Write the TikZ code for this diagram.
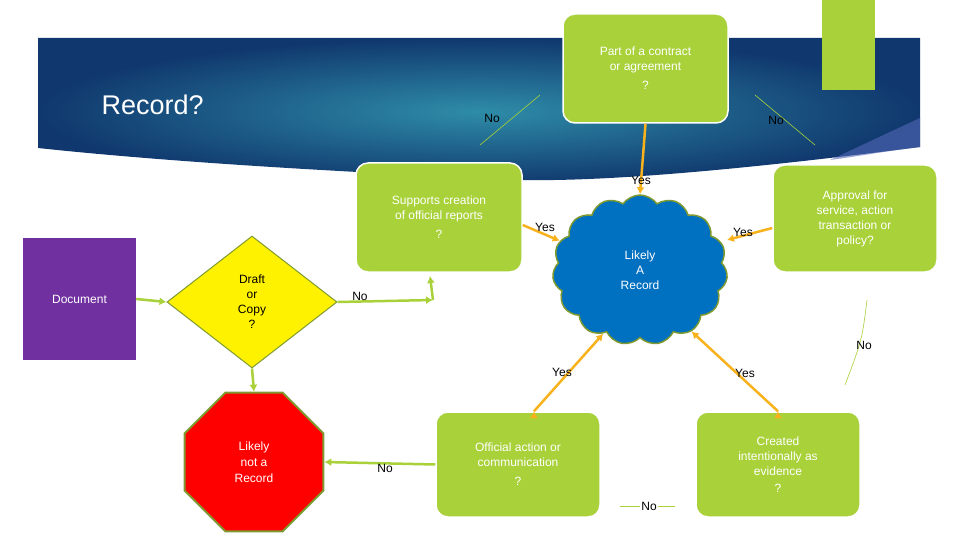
\documentclass[tikz,border=0pt]{standalone}
\usepackage{fontspec}
\setmainfont{Liberation Sans}
\usetikzlibrary{shapes.geometric,shapes.symbols,arrows.meta}
\definecolor{lg}{HTML}{A9D13A}
\definecolor{dk}{HTML}{10386E}
\definecolor{tl}{HTML}{2E8CA8}
\definecolor{org}{HTML}{F7B21C}
\definecolor{olv}{HTML}{7F9A30}
\begin{document}
\begin{tikzpicture}[x=1pt,y=-1pt,
 gbox/.style={draw=white,line width=1.5pt,fill=lg,rounded corners=12pt,text=white,align=center,font=\fontsize{12}{15}\selectfont,inner sep=2pt},
 yes/.style={draw=org,line width=2.5pt,-{Latex[length=7pt,width=8pt]}},
 gno/.style={draw=lg,line width=2.5pt,-{Latex[length=7pt,width=8pt]}},
 thin/.style={draw=lg,line width=0.6pt},
 lab/.style={font=\fontsize{12}{14}\selectfont,text=black}]
\useasboundingbox (0,0) rectangle (960,540);
\fill[white] (0,0) rectangle (960,540);
% banner
\shade[inner color=tl,outer color=dk] (38,38) -- (920,38) -- (920,147) .. controls (700,175) and (560,185) .. (480,178) .. controls (300,170) and (150,160) .. (38,148) -- cycle;
\fill[blue!30!dk!70!white,opacity=0.6] (920,118) -- (920,147) .. controls (880,152) and (860,156) .. (830,160) -- cycle;
\fill[lg] (822,0) rectangle (875,90);
\node[text=white,font=\fontsize{27}{30}\selectfont,anchor=west] (title) at (98,105) {Record?};
% nodes
\node[gbox,minimum width=165pt,minimum height=109pt] (contract) at (645.5,68.5) {Part of a contract\\or agreement\\[4pt]?};
\node[gbox,minimum width=166pt,minimum height=109pt] (supports) at (439,217.5) {Supports creation\\of official reports\\[4pt]?};
\node[gbox,minimum width=164pt,minimum height=107pt] (approval) at (855,218.5) {Approval for\\service, action\\transaction or\\policy?};
\node[gbox,minimum width=164pt,minimum height=105pt] (official) at (518,464.5) {Official action or\\communication\\[4pt]?};
\node[gbox,minimum width=164pt,minimum height=105pt] (created) at (778,464.5) {Created\\intentionally as\\evidence\\[2pt]?};
\node[fill=violet!60!purple,fill={rgb,255:red,112;green,48;blue,160},minimum width=113pt,minimum height=122pt,text=white,font=\fontsize{12}{14}\selectfont] (doc) at (79.5,299) {Document};
\node[diamond,draw=olv,line width=1pt,fill=yellow,minimum width=170pt,minimum height=132pt,inner sep=0pt,align=center,font=\fontsize{12}{15}\selectfont] (draft) at (252,302) {Draft\\or\\Copy\\?};
\node[regular polygon,regular polygon sides=8,draw=olv,line width=2pt,fill=red,minimum size=150pt,inner sep=0pt,align=center,text=white,font=\fontsize{12}{16}\selectfont] (notrec) at (254,462) {Likely\\not a\\Record};
\node[cloud,cloud puffs=15,cloud puff arc=110,aspect=1.1,draw=olv,line width=1.5pt,fill={rgb,255:red,0;green,112;blue,192},minimum width=175pt,minimum height=150pt,align=center,text=white,font=\fontsize{12}{15}\selectfont] (cloud) at (640,270) {Likely\\A\\Record};
% green connectors
\draw[gno] (doc.east) -- (draft.west);
\draw[gno] (draft.south) -- (notrec.north);
\coordinate (bend) at (433,300);
\coordinate (bendtop) at (430,276);
\draw[gno] (draft.east) -- (bend);
\draw[gno] (bend) -- (bendtop);
\node[lab] (no1) at (360,296) {No};
\draw[gno] (official.west) -- (notrec.east);
\node[lab] (no2) at (385,468) {No};
% yes connectors
\draw[yes] (contract.south) -- (cloud.north);
\node[lab] (y1) at (641,180) {Yes};
\draw[yes] (supports.east |- 0,225) -- (cloud.160);
\node[lab] (y2) at (545,227) {Yes};
\draw[yes] (approval.west |- 0,228) -- (cloud.east |- 0,240);
\node[lab] (y3) at (743,232) {Yes};
\draw[yes] (official.north) ++(16,0) coordinate (o1);
\draw[yes] (o1) -- (cloud.240);
\node[lab] (y4) at (562,372) {Yes};
\draw[yes] (created.north) coordinate (c1);
\draw[yes] (c1) -- (cloud.310);
\node[lab] (y5) at (745,373) {Yes};
% thin No lines
\coordinate (a1) at (480,145); \coordinate (a2) at (540,95);
\draw[thin] (a1) -- (a2);
\node[lab] (no3) at (492,118) {No};
\coordinate (b1) at (755,95); \coordinate (b2) at (815,145);
\draw[thin] (b1) -- (b2);
\node[lab] (no4) at (776,120) {No};
\coordinate (d1) at (867,300); \coordinate (d2) at (845,385);
\draw[thin] (d1) .. controls (862,340) .. (d2);
\node[lab] (no5) at (864,345) {No};
\coordinate (e1) at (620,506); \coordinate (e2) at (675,506);
\draw[thin] (e1) -- (e2);
\node[lab,fill=white,inner sep=1pt] (no6) at (649,506) {No};
\end{tikzpicture}
\end{document}
